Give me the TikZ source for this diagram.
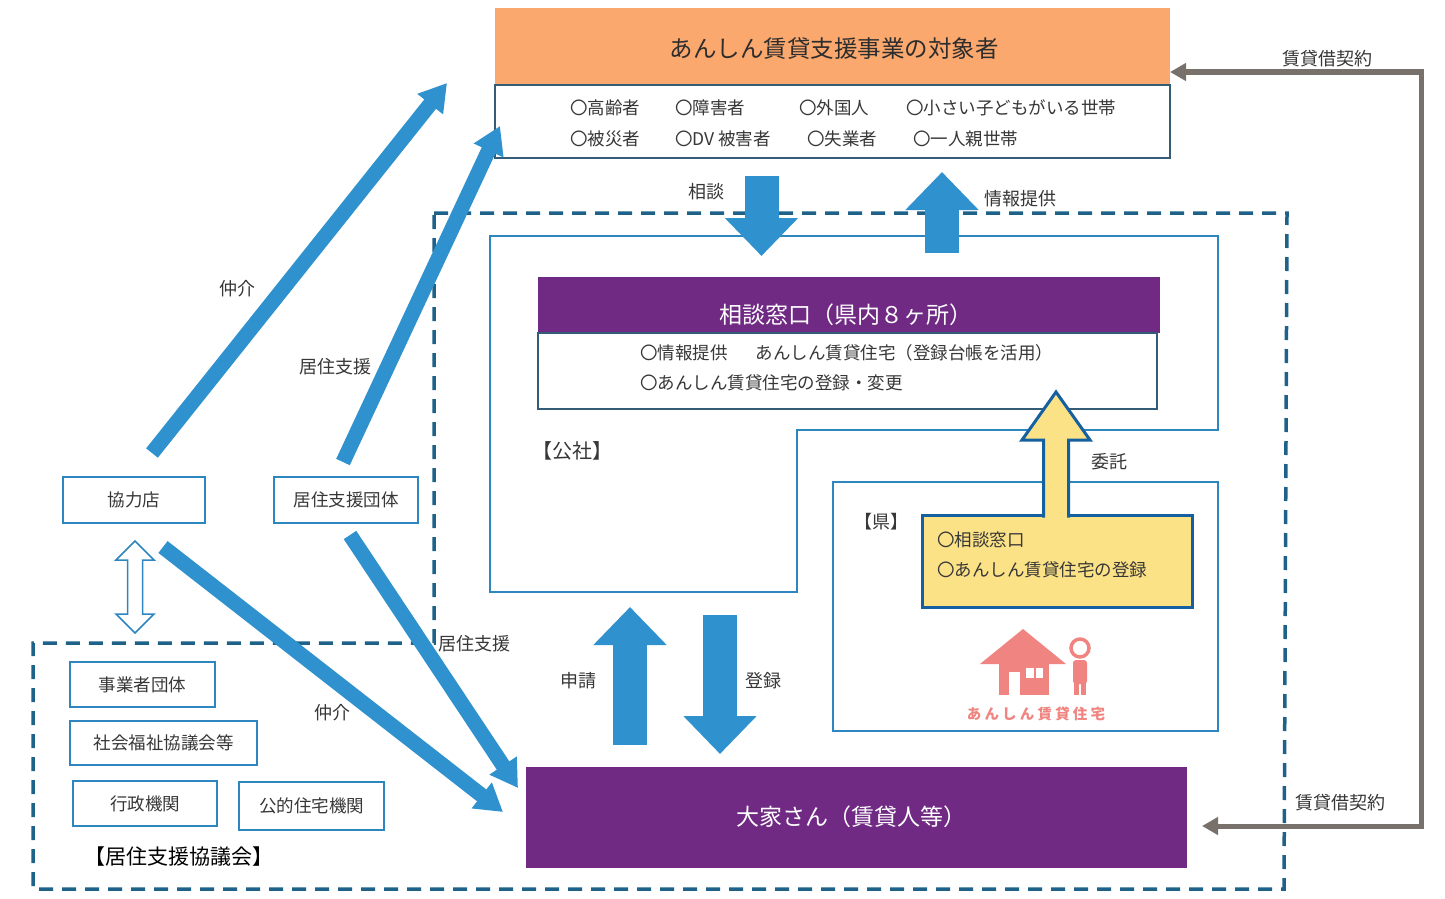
\documentclass[tikz,border=0pt]{standalone}
\usepackage{fontspec}
\setmainfont{Noto Sans CJK JP}
\usetikzlibrary{arrows.meta,calc}
\definecolor{orangeF}{RGB}{250,168,110}
\definecolor{purpleF}{RGB}{112,42,132}
\definecolor{arrowB}{RGB}{47,146,206}
\definecolor{dashC}{RGB}{30,98,138}
\definecolor{boxB}{RGB}{46,134,193}
\definecolor{darkB}{RGB}{52,92,118}
\definecolor{yellowF}{RGB}{252,226,135}
\definecolor{yellowB}{RGB}{21,96,160}
\definecolor{pinkC}{RGB}{240,132,128}
\definecolor{brownC}{RGB}{119,112,107}
\definecolor{txt}{RGB}{55,55,55}
\begin{document}
\begin{tikzpicture}[x=1pt,y=-1pt,
  every node/.style={inner sep=0pt, outer sep=0pt, text=txt},
  lbl/.style={font=\fontsize{18}{20}\selectfont},
  itm/.style={font=\fontsize{17.5}{20}\selectfont, anchor=west},
  boxtxt/.style={font=\fontsize{17.5}{20}\selectfont},
  bluebox/.style={draw=boxB, line width=1.6pt, fill=white},
  darkbox/.style={draw=darkB, line width=1.6pt, fill=white},
  blk/.style={draw=arrowB, line width=34pt, -{Triangle[length=38pt,width=71pt]}},
  diag/.style={draw=arrowB, line width=15pt, -{Triangle[length=27pt,width=31pt]}},
  brownarr/.style={draw=brownC, line width=5pt, line join=miter,
    {Triangle[length=16pt,width=17pt]}-{Triangle[length=16pt,width=17pt]}},
  dashreg/.style={draw=dashC, line width=3.5pt, dash pattern=on 14pt off 9pt, line join=miter}
]
\fill[white] (0,0) rectangle (1445,899);
\useasboundingbox (0,0) rectangle (1445,899);

% dashed region
\draw[dashreg] (434,213) -- (1287,213) -- (1284,889) -- (33,889) -- (33,643) -- (434,643) -- cycle;

% target group
\node[fill=orangeF, minimum width=675pt, minimum height=77pt] (tgt) at (832.5,46.5) {};
\node[font=\fontsize{23.5}{26}\selectfont, text={rgb,255:red,45;green,45;blue,45}] (tgttitle) at (834,49) {あんしん賃貸支援事業の対象者};
\node[darkbox, minimum width=675pt, minimum height=73pt] (tgtlist) at (832.5,121.5) {};
\node[itm] (t1) at (570,108) {〇高齢者};
\node[itm] (t2) at (675,108) {〇障害者};
\node[itm] (t3) at (799,108) {〇外国人};
\node[itm] (t4) at (906,108) {〇小さい子どもがいる世帯};
\node[itm] (t5) at (570,139) {〇被災者};
\node[itm] (t6) at (675,139) {〇DV 被害者};
\node[itm] (t7) at (807,139) {〇失業者};
\node[itm] (t8) at (913,139) {〇一人親世帯};

% kosha
\draw[boxB, line width=1.6pt] (490,236) -- (1218,236) -- (1218,430) -- (797,430) -- (797,592) -- (490,592) -- cycle;
\node[fill=purpleF, minimum width=622pt, minimum height=56pt] (mado) at (849,305) {};
\node[text=white, font=\fontsize{23}{26}\selectfont] (madotitle) at (846,315) {相談窓口（県内８ヶ所）};
\node[darkbox, minimum width=619pt, minimum height=76pt] (madolist) at (847.5,371) {};
\node[itm] (m1) at (640,353) {〇情報提供\hspace{28pt}あんしん賃貸住宅（登録台帳を活用）};
\node[itm] (m2) at (640,383) {〇あんしん賃貸住宅の登録・変更};
\node[font=\fontsize{20}{22}\selectfont] (kosha) at (572,451) {【公社】};

% ken
\node[bluebox, minimum width=385pt, minimum height=249pt] (ken) at (1025.5,606.5) {};
\node[font=\fontsize{18}{20}\selectfont] (kenlbl) at (881,522) {【県】};
\node[draw=yellowB, line width=3pt, fill=yellowF, minimum width=270pt, minimum height=92pt] (kenmado) at (1057,561) {};
\node[itm] (k1) at (937,540) {〇相談窓口};
\node[itm] (k2) at (937,570) {〇あんしん賃貸住宅の登録};

% yellow arrow (委託)
\filldraw[fill=yellowF, draw=yellowB, line width=3pt, line join=miter]
  (1043.5,517.5) -- (1043.5,440) -- (1022,440) -- (1056,392) -- (1090,440) -- (1068.5,440) -- (1068.5,517.5);
\node[lbl] (itaku) at (1109,462) {委託};

% house icon
\fill[pinkC] (980,664) -- (1023,629) -- (1066,664) -- cycle;
\fill[pinkC] (999,660) rectangle (1049,695);
\fill[white] (1009,672) rectangle (1020,695);
\fill[white] (1026,668) rectangle (1033.5,678);
\fill[white] (1035.5,668) rectangle (1043,678);
\draw[pinkC, line width=3.5pt, fill=white] (1080,648) circle (9pt);
\fill[pinkC, rounded corners=3pt] (1073,660) rectangle (1087,684);
\fill[pinkC] (1074,678) rectangle (1079,695);
\fill[pinkC] (1081,678) rectangle (1086,695);
\node[text=pinkC, font=\fontsize{14.5}{16}\selectfont\bfseries\addfontfeature{LetterSpace=22}] (anshin) at (1036,714) {あんしん賃貸住宅};

% owner
\node[fill=purpleF, minimum width=661pt, minimum height=101pt] (owner) at (856.5,817.5) {};
\node[text=white, font=\fontsize{23}{26}\selectfont] (ownertitle) at (851,817) {大家さん（賃貸人等）};

% left boxes
\node[bluebox, line width=1.4pt, minimum width=142pt, minimum height=46pt, boxtxt] (kyo) at (134,500) {協力店};
\node[bluebox, line width=1.4pt, minimum width=144pt, minimum height=46pt, boxtxt] (kyodan) at (346,500) {居住支援団体};
\node[bluebox, line width=1.4pt, minimum width=145pt, minimum height=45pt, boxtxt] (jig) at (142.5,684.5) {事業者団体};
\node[bluebox, line width=1.4pt, minimum width=187pt, minimum height=44pt, boxtxt] (shakai) at (163.5,743) {社会福祉協議会等};
\node[bluebox, line width=1.4pt, minimum width=144pt, minimum height=45pt, boxtxt] (gyosei) at (145,803.5) {行政機関};
\node[bluebox, line width=1.4pt, minimum width=145pt, minimum height=48pt, boxtxt] (koteki) at (311.5,806) {公的住宅機関};
\node[font=\fontsize{21}{24}\selectfont, text=black] (kyogikai) at (179,857) {【居住支援協議会】};

% double arrow between 協力店 and 協議会
\filldraw[fill=white, draw=boxB, line width=1.5pt, line join=miter]
  (135,541) -- (116,560) -- (127.5,560) -- (127.5,614) -- (116,614) -- (135,633)
  -- (154,614) -- (142.5,614) -- (142.5,560) -- (154,560) -- cycle;

% block arrows
\coordinate (sA) at (761.5,176); \coordinate (eA) at (761.5,256);
\coordinate (sB) at (942,253);   \coordinate (eB) at (942,172);
\coordinate (sC) at (630,745);   \coordinate (eC) at (630,607);
\coordinate (sD) at (720,615);   \coordinate (eD) at (720,754);
\draw[blk] (sA) -- (eA);
\draw[blk] (sB) -- (eB);
\draw[blk] (sC) -- (eC);
\draw[blk] (sD) -- (eD);
\node[lbl] (soudan) at (706,192) {相談};
\node[lbl] (joho) at (1020,199) {情報提供};
\node[lbl] (shinsei) at (578,681) {申請};
\node[lbl] (toroku) at (763,681) {登録};

% diagonal arrows
\coordinate (a1s) at (152,453); \coordinate (a1e) at (447,83);
\coordinate (a2s) at (343,462); \coordinate (a2e) at (500,126);
\coordinate (a3s) at (163,547); \coordinate (a3e) at (503,812);
\coordinate (a4s) at (350,535); \coordinate (a4e) at (518,788);
\draw[diag] (a1s) -- (a1e);
\draw[diag] (a2s) -- (a2e);
\draw[diag] (a3s) -- (a3e);
\draw[diag] (a4s) -- (a4e);
\node[lbl] (chukai1) at (237,289) {仲介};
\node[lbl] (kyoshi1) at (335,367) {居住支援};
\node[lbl] (chukai2) at (332,713) {仲介};
\node[lbl] (kyoshi2) at (474,644) {居住支援};

% contract arrows
\coordinate (bc1) at (1421,72);
\coordinate (bc2) at (1421,826);
\draw[brownarr] (tgt.east |- bc1) -- (bc1) -- (bc2) -- ([xshift=15pt]owner.east |- bc2);
\node[lbl] (keiyaku1) at (1327,59) {賃貸借契約};
\node[lbl] (keiyaku2) at (1340,803) {賃貸借契約};
\end{tikzpicture}
\end{document}
